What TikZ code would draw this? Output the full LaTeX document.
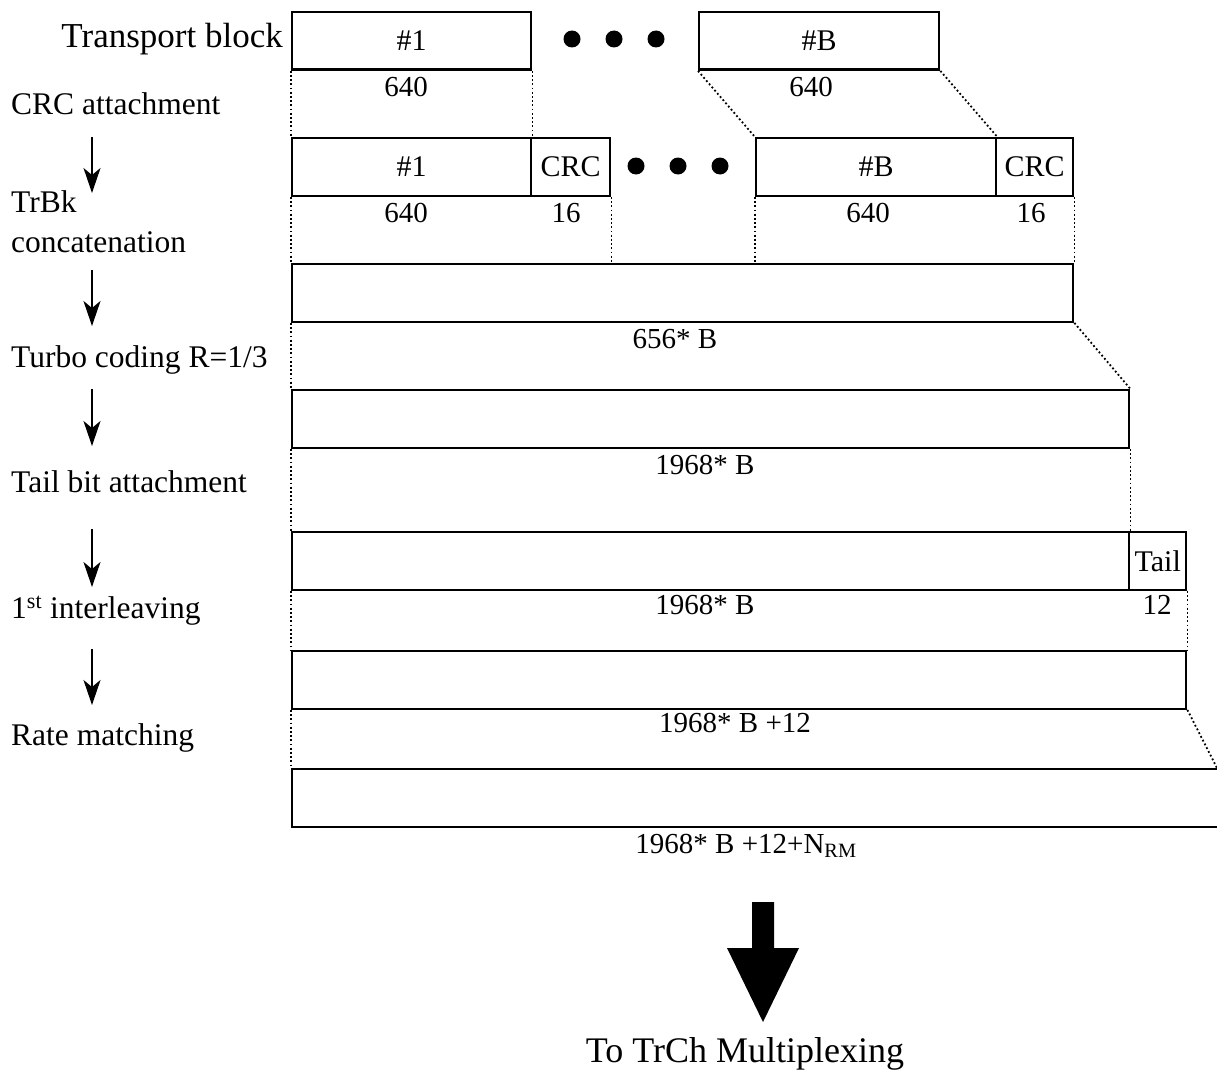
\documentclass[tikz,border=0pt]{standalone}
\usepackage{fontspec}
\setmainfont{Liberation Serif}
\usetikzlibrary{arrows.meta}
\begin{document}
\begin{tikzpicture}[x=1pt,y=-1pt,
  blk/.style={draw, line width=2.4pt, anchor=north west, minimum height=57.5pt, inner sep=0pt, font=\fontsize{30}{30}\selectfont},
  dotline/.style={line width=1.8pt, dash pattern=on 1.8pt off 2.4pt},
  lbl/.style={anchor=base west, inner sep=0pt, font=\fontsize{31.5}{31.5}\selectfont},
  num/.style={anchor=base, inner sep=0pt, font=\fontsize{29}{29}\selectfont},
  big/.style={inner sep=0pt, font=\fontsize{36}{36}\selectfont},
  steparrow/.style={line width=2pt, -{Stealth[length=25pt,width=17pt,inset=7pt]}},
  bigdot/.style={circle, fill, inner sep=0pt, minimum size=17pt},
]
\useasboundingbox (0,0) rectangle (1217,1070);

% left labels
\node[big, anchor=base east, font=\fontsize{35}{35}\selectfont] (ltb) at (283,48) {Transport block};
\node[lbl] (l1) at (11,115) {CRC attachment};
\node[lbl] (l2a) at (11,212) {TrBk};
\node[lbl] (l2b) at (11,252) {concatenation};
\node[lbl] (l3) at (11,367) {Turbo coding R=1/3};
\node[lbl] (l4) at (11,492) {Tail bit attachment};
\node[lbl] (l5) at (11,618) {1\textsuperscript{st} interleaving};
\node[lbl] (l6) at (11,745) {Rate matching};

% step arrows
\coordinate (a1s) at (92,137); \coordinate (a1e) at (92,193);
\coordinate (a2s) at (92,270); \coordinate (a2e) at (92,326);
\coordinate (a3s) at (92,389); \coordinate (a3e) at (92,446);
\coordinate (a4s) at (92,529); \coordinate (a4e) at (92,587);
\coordinate (a5s) at (92,649); \coordinate (a5e) at (92,705);
\draw[steparrow] (a1s) -- (a1e);
\draw[steparrow] (a2s) -- (a2e);
\draw[steparrow] (a3s) -- (a3e);
\draw[steparrow] (a4s) -- (a4e);
\draw[steparrow] (a5s) -- (a5e);

% row 1
\node[blk, minimum width=239pt] (t1) at (291,11) {\#1};
\node[bigdot] (d11) at (572,39) {};
\node[bigdot] (d12) at (614,39) {};
\node[bigdot] (d13) at (656,39) {};
\node[blk, minimum width=240pt] (tB) at (698,11) {\#B};
\node[num] (n11) at (406,97) {640};
\node[num] (n12) at (811,97) {640};

% row 2
\node[blk, minimum width=239pt] (c1) at (291,137) {\#1};
\node[blk, minimum width=79pt] (crc1) at (530,137) {CRC};
\node[bigdot] (d21) at (636,166) {};
\node[bigdot] (d22) at (678,166) {};
\node[bigdot] (d23) at (720,166) {};
\node[blk, minimum width=240pt] (cB) at (755,137) {\#B};
\node[blk, minimum width=77pt] (crcB) at (995,137) {CRC};
\node[num] (n21) at (406,222) {640};
\node[num] (n22) at (566,222) {16};
\node[num] (n23) at (868,222) {640};
\node[num] (n24) at (1031,222) {16};

% row 3
\node[blk, minimum width=781pt] (cat) at (291,263) {};
\node[num] (n3) at (675,348) {656* B};

% row 4
\node[blk, minimum width=837pt] (tc) at (291,389) {};
\node[num] (n4) at (705,474) {1968* B};

% row 5
\node[blk, minimum width=837pt] (tb) at (291,531) {};
\node[blk, minimum width=57pt] (tail) at (1128,531) {Tail};
\node[num] (n51) at (705,614) {1968* B};
\node[num] (n52) at (1157,614) {12};

% row 6
\node[blk, minimum width=894pt] (il) at (291,650) {};
\node[num] (n6) at (735,732) {1968* B +12};

% row 7
\node[blk, minimum width=960pt] (rm) at (291,768) {};
\node[num] (n7) at (746,853) {1968* B +12+N\textsubscript{RM}};
\coordinate (rmtop) at (1217,768);

% dotted guides
\draw[dotline] (t1.south west) -- (c1.north west);
\draw[dotline] (t1.south east) -- (c1.north east);
\draw[dotline] (tB.south west) -- (cB.north west);
\draw[dotline] (tB.south east) -- (cB.north east);
\draw[dotline] (c1.south west) -- (cat.north west);
\draw[dotline] (crc1.south east) -- (crc1.south east |- cat.north);
\draw[dotline] (cB.south west) -- (cB.south west |- cat.north);
\draw[dotline] (crcB.south east) -- (cat.north east);
\draw[dotline] (cat.south west) -- (tc.north west);
\draw[dotline] (cat.south east) -- (tc.north east);
\draw[dotline] (tc.south west) -- (tb.north west);
\draw[dotline] (tc.south east) -- (tb.north east);
\draw[dotline] (tb.south west) -- (il.north west);
\draw[dotline] (tail.south east) -- (il.north east);
\draw[dotline] (il.south west) -- (rm.north west);
\draw[dotline] (il.south east) -- (rmtop);

% big output arrow
\node[big, anchor=base] (out) at (745,1062) {To TrCh Multiplexing};
\fill (752,902) -- (774,902) -- (774,948) -- (799,948) -- (763,1022) -- (727,948) -- (752,948) -- cycle;
\end{tikzpicture}
\end{document}
